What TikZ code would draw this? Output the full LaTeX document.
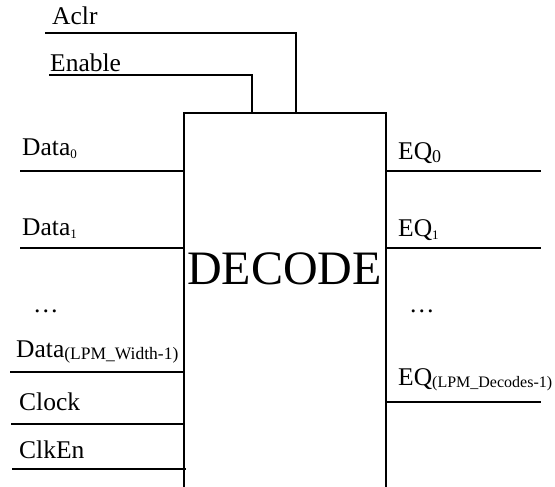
\documentclass[tikz,border=0pt]{standalone}
\usepackage{fontspec}
\setmainfont{Liberation Serif}
\newcommand\lowsub[3]{\raisebox{-#2pt}{\fontsize{#1}{#1}\selectfont #3}}
\begin{document}
\begin{tikzpicture}[x=1pt,y=-1pt,
  wire/.style={line width=1.5pt},
  lbl/.style={anchor=base west, inner sep=0pt, font=\fontsize{25.5}{29}\selectfont},
  big/.style={anchor=base, inner sep=0pt, font=\fontsize{48}{52}\selectfont}]
\useasboundingbox (0,0) rectangle (555,487);
\node[draw, line width=1.5pt, anchor=north west, minimum width=202pt, minimum height=420pt, inner sep=0pt, outer sep=0pt] (box) at (184,113) {};
\node[big] (title) at (284.5,284) {DECODE};
% top inputs
\node[lbl] (aclrT) at (52,25) {Aclr};
\node[lbl] (enT) at (50,72) {Enable};
\coordinate (aclrA) at (45,33);
\coordinate (aclrB) at (296,113);
\coordinate (enA) at (49,75);
\coordinate (enB) at (252,113);
\draw[wire] (aclrA) -| (aclrB);
\draw[wire] (enA) -| (enB);
% left inputs
\node[lbl] (d0T) at (22,156) {Data\lowsub{13}{2}{0}};
\node[lbl] (d1T) at (22,235) {Data\lowsub{13}{3}{1}};
\node[lbl] (ldots) at (33,312) {\ldots};
\node[lbl] (dnT) at (16,357) {Data\lowsub{17.5}{2}{(LPM\_Width-1)}};
\node[lbl] (clkT) at (19,410) {Clock};
\node[lbl] (ceT) at (19,458) {ClkEn};
\coordinate (d0A) at (20,171);
\coordinate (d1A) at (20,248);
\coordinate (dnA) at (10,372);
\coordinate (clkA) at (11,424);
\coordinate (ceA) at (12,469);
\draw[wire] (d0A) -- (d0A -| box.west);
\draw[wire] (d1A) -- (d1A -| box.west);
\draw[wire] (dnA) -- (dnA -| box.west);
\draw[wire] (clkA) -- (clkA -| box.west);
\draw[wire] (ceA) -- ([xshift=2pt]ceA -| box.west);
% right outputs
\node[lbl] (q0T) at (398,159) {EQ\lowsub{18}{4}{0}};
\node[lbl] (q1T) at (398,236) {EQ\lowsub{13}{3}{1}};
\node[lbl] (rdots) at (409,312) {\ldots};
\node[lbl] (qnT) at (398,385) {EQ\lowsub{16}{2}{(LPM\_Decodes-1)}};
\coordinate (q0B) at (541,171);
\coordinate (q1B) at (541,248);
\coordinate (qnB) at (541,402);
\draw[wire] (q0B -| box.east) -- (q0B);
\draw[wire] (q1B -| box.east) -- (q1B);
\draw[wire] (qnB -| box.east) -- (qnB);
\end{tikzpicture}
\end{document}
